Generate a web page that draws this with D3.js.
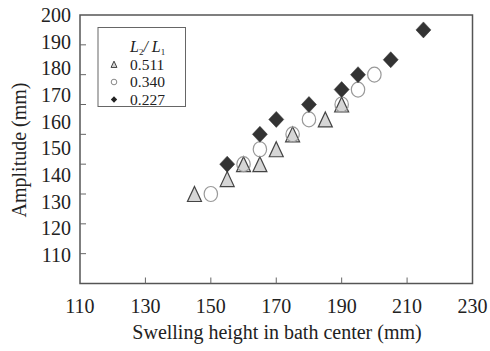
<!DOCTYPE html>
<html><head><meta charset="utf-8">
<script src="https://cdn.jsdelivr.net/npm/d3@7"></script>
<style>body{margin:0;background:#fff}</style>
</head><body><svg id="c" width="490" height="351"></svg>
<script>
const xTicks = [110,130,150,170,190,210,230];
const yTickMarks = [120,130,140,150,160,170,180,190];
const yLabels = [200,190,180,170,160,150,140,130,120,110];
const triX = [145,155,160,165,170,175,185,190];
const triY = [140,145,150,150,155,160,165,170];
const cirX = [150,160,165,175,180,190,195,200];
const cirY = [140,150,155,160,165,170,175,180];
const diaX = [155,165,170,180,190,195,205,215];
const diaY = [150,160,165,170,175,180,185,195];
const legendLabels = ["0.511","0.340","0.227"];

const FF = "Liberation Serif";
const svg = d3.select("#c");
const L=80,R=472.5,T=15,B=283.5;
const x = d3.scaleLinear().domain([110,230]).range([L,R]);
const y = d3.scaleLinear().domain([110,200]).range([B,T]);
const yLab = d3.scaleLinear().domain([110,200]).range([255,15]);

svg.append("rect").attr("x",L).attr("y",T).attr("width",R-L).attr("height",B-T)
  .attr("fill","none").attr("stroke","#555").attr("stroke-width",1.5);

svg.append("g").selectAll("line").data(xTicks.slice(1,-1)).join("line")
  .attr("x1",d=>x(d)).attr("x2",d=>x(d)).attr("y1",B).attr("y2",B-6)
  .attr("stroke","#666").attr("stroke-width",1);
svg.append("g").selectAll("text").data(xTicks).join("text")
  .attr("x",d=>x(d)).attr("y",313).attr("text-anchor","middle")
  .style("font-family",FF).style("font-size","20px").attr("fill","#222").text(d=>d);

svg.append("g").selectAll("line").data(yTickMarks).join("line")
  .attr("x1",L).attr("x2",L+6).attr("y1",d=>y(d)).attr("y2",d=>y(d))
  .attr("stroke","#666").attr("stroke-width",1);
svg.append("g").selectAll("text").data(yLabels).join("text")
  .attr("x",71).attr("y",d=>yLab(d)).attr("dy","0.35em").attr("text-anchor","end")
  .style("font-family",FF).style("font-size","20px").attr("fill","#222").text(d=>d);

svg.append("text").attr("x",277).attr("y",339).attr("text-anchor","middle")
  .style("font-family",FF).style("font-size","20px").attr("fill","#222")
  .text("Swelling height in bath center (mm)");
svg.append("text").attr("transform","translate(26,150) rotate(-90)").attr("text-anchor","middle")
  .style("font-family",FF).style("font-size","20px").attr("fill","#222")
  .text("Amplitude (mm)");

function triPath(s){ return `M0,${-8*s}L${7*s},${7*s}L${-7*s},${7*s}Z`; }
function diaPath(s){ return `M0,${-8*s}L${7.5*s},0L0,${8*s}L${-7.5*s},0Z`; }

const tri = triX.map((v,i)=>[v,triY[i]]);
const cir = cirX.map((v,i)=>[v,cirY[i]]);
const dia = diaX.map((v,i)=>[v,diaY[i]]);

svg.append("g").selectAll("path").data(tri).join("path")
  .attr("transform",d=>`translate(${x(d[0])},${y(d[1])+0.5})`).attr("d",triPath(1))
  .attr("fill","#d6d6d6").attr("stroke","#444").attr("stroke-width",1.2);
svg.append("g").selectAll("ellipse").data(cir).join("ellipse")
  .attr("cx",d=>x(d[0])).attr("cy",d=>y(d[1])).attr("rx",6.7).attr("ry",7.5)
  .attr("fill","none").attr("stroke","#999").attr("stroke-width",1.2);
svg.append("g").selectAll("path").data(dia).join("path")
  .attr("transform",d=>`translate(${x(d[0])},${y(d[1])})`).attr("d",diaPath(1))
  .attr("fill","#333").attr("stroke","#333").attr("stroke-width",0.5);

const lg = svg.append("g");
lg.append("rect").attr("x",98).attr("y",27.5).attr("width",87.5).attr("height",79)
  .attr("fill","#fff").attr("stroke","#666").attr("stroke-width",1);
const title = lg.append("text").attr("x",130).attr("y",51.5)
  .style("font-family",FF).style("font-size","16px").style("font-style","italic").attr("fill","#222");
title.append("tspan").text("L");
title.append("tspan").style("font-size","9px").attr("dy",3).style("font-style","normal").text("2");
title.append("tspan").attr("dy",-3).text("/ L");
title.append("tspan").style("font-size","9px").attr("dy",3).style("font-style","normal").text("1");
const rowsY = [64.5,82,99.5];
lg.selectAll("text.lab").data(legendLabels).join("text").attr("class","lab")
  .attr("x",130).attr("y",(d,i)=>rowsY[i]).attr("dy","0.35em")
  .style("font-family",FF).style("font-size","15.5px").attr("fill","#222").text(d=>d);
lg.append("path").attr("transform",`translate(114,${rowsY[0]})`).attr("d",triPath(0.42))
  .attr("fill","#d6d6d6").attr("stroke","#444").attr("stroke-width",1);
lg.append("circle").attr("cx",114).attr("cy",rowsY[1]).attr("r",2.8)
  .attr("fill","none").attr("stroke","#888").attr("stroke-width",1);
lg.append("path").attr("transform",`translate(114,${rowsY[2]})`).attr("d",diaPath(0.42))
  .attr("fill","#222");
</script></body></html>
